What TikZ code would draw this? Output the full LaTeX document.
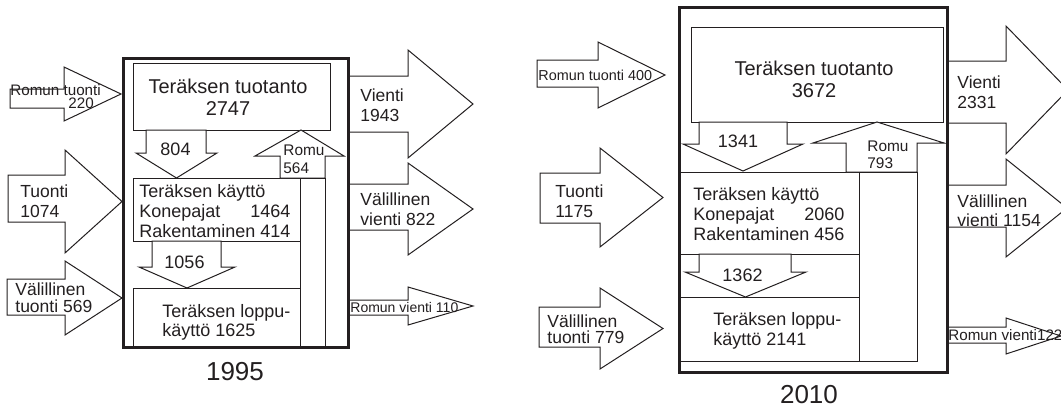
\documentclass[tikz,border=0pt]{standalone}
\usepackage{fontspec}
\setmainfont{Liberation Sans}
\usepackage{calc}
\usetikzlibrary{calc}
\definecolor{linecolor}{RGB}{35,31,32}

\tikzset{
	outerbox/.style={draw=linecolor, line width=1.5pt},
	innerbox/.style={draw=linecolor, line width=0.5pt, fill=white},
	blockarrow/.style={draw=linecolor, line width=0.5pt, fill=white, line join=miter},
	titletext/.style={font=\fontsize{10}{11}\selectfont, align=center,
		anchor=base, inner sep=0pt, text=linecolor},
	boxtext/.style={font=\fontsize{9}{10}\selectfont, align=left,
		anchor=base west, inner sep=0pt, text=linecolor},
	flowtext/.style={font=\fontsize{8.75}{10}\selectfont, align=left,
		anchor=base west, inner sep=0pt, text=linecolor},
	numtext/.style={font=\fontsize{9}{10}\selectfont,
		anchor=base, inner sep=0pt, text=linecolor},
	smalltext/.style={font=\fontsize{7.6}{9}\selectfont, align=left,
		anchor=base west, inner sep=0pt, text=linecolor},
	yeartext/.style={font=\fontsize{13}{15}\selectfont,
		anchor=base, inner sep=0pt, text=linecolor}
}

% right block arrow: xL xH xTip sTop sBot hTop hBot
\newcommand{\rightblk}[7]{%
	\draw[blockarrow] (#1,#4) -- (#2,#4) -- (#2,#6) -- (#3,{(#6+#7)/2})
	-- (#2,#7) -- (#2,#5) -- (#1,#5) -- cycle;}
% down block arrow: sL sR hL hR yTop yHead yTip
\newcommand{\downblk}[7]{%
	\draw[blockarrow] (#1,#5) -- (#1,#6) -- (#3,#6) -- ({(#3+#4)/2},#7)
	-- (#4,#6) -- (#2,#6) -- (#2,#5) -- cycle;}

\begin{document}
\begin{tikzpicture}[x=0.5pt, y=-0.5pt]
		\clip (0,0) rectangle (1061,412);
		
		%% ═══════════════════════════════
		%%  1995
		%% ═══════════════════════════════
		\rightblk{10}{64}{121}{89}{108}{67}{121}
		\rightblk{8}{65}{122}{175}{222}{150}{253}
		\rightblk{7}{65}{122}{279}{315}{261}{335}
		\rightblk{348}{408}{473}{76}{132}{50}{158}
		\rightblk{348}{408}{473}{184}{230}{163}{255}
		\rightblk{348}{408}{473}{300}{315}{287}{325}
		
		\draw[outerbox, fill=white] (123,58) rectangle (348,347);
		\draw[innerbox] (133,63) rectangle (330,130);
		\draw[innerbox] (133,178) rectangle (300,241);
		\draw[innerbox] (133,288) rectangle (300,347);
		
		% Romu back up to production
		\draw[blockarrow] (280,178) -- (280,156) -- (255,156) -- (301,130)
		-- (344,156) -- (325,156) -- (325,178) -- cycle;
		\draw[innerbox] (300,178) rectangle (325,347);
		
		\downblk{146}{206}{136}{217}{130}{153}{178}
		\downblk{152}{221}{139}{235}{241}{267}{288}
		\draw[outerbox] (123,58) rectangle (348,347);
		
		% base anchor = last line
		\node[titletext] (prod95) at (228,115) {Teräksen tuotanto\\2747};
		\node[numtext] (flow95a) at (175.5,155) {804};
		\node[numtext] (flow95b) at (184.5,268) {1056};
		\node[smalltext, font=\fontsize{7.7}{9}\selectfont] (romu95) at (283,173) {Romu\\564};
		\node[boxtext] (use95) at (139,237)
		{Teräksen käyttö\\\makebox[\widthof{Rakentaminen 414}][l]{Konepajat\hfill 1464}\\Rakentaminen 414};
		\node[boxtext, font=\fontsize{9}{9.5}\selectfont] (end95) at (162,336) {Teräksen loppu-\\käyttö 1625};
		
		\node[smalltext] (scrapin95) at (10,95) {Romun tuonti};
		\node[smalltext] (scrapin95n) at (68,108) {220};
		\node[flowtext] (imp95) at (20,217) {Tuonti\\1074};
		\node[flowtext, font=\fontsize{8.75}{8.4}\selectfont] (indimp95) at (15,312.5) {Välillinen\\tuonti 569};
		\node[flowtext] (exp95) at (360,121.7) {Vienti\\1943};
		\node[flowtext] (indexp95) at (360,225) {Välillinen\\vienti 822};
		\node[smalltext, font=\fontsize{7}{8}\selectfont] (scrapout95) at (350,312) {Romun vienti 110};
		\node[yeartext] (year95) at (235,380) {1995};
		
		%% ═══════════════════════════════
		%%  2010
		%% ═══════════════════════════════
		\rightblk{537}{598}{665}{60}{87}{42}{108}
		\rightblk{540}{600}{663}{173}{223}{148}{247}
		\rightblk{539}{600}{663}{307}{347}{288}{369}
		\rightblk{947}{1006}{1068}{61}{123}{26}{154}
		\rightblk{947}{1006}{1067}{185}{227}{159}{257}
		\rightblk{947}{1006}{1061}{327}{343}{318}{354}
		
		\draw[outerbox, fill=white] (679,7) rectangle (947,372);
		\draw[innerbox] (691,27) rectangle (943,122);
		\draw[innerbox] (679,172) rectangle (859,254);
		\draw[innerbox] (679,297) rectangle (859,361);
		
		% Romu back up to production
		\draw[blockarrow] (846,172) -- (846,143) -- (813,143) -- (877,122)
		-- (944,143) -- (917,143) -- (917,172) -- cycle;
		\draw[innerbox] (859,172) rectangle (917,361);
		\draw[innerbox] (679,361) -- (917,361);
		
		\downblk{699}{787}{683}{803}{122}{144}{171}
		\downblk{699}{791}{685}{806}{254}{272}{297}
		\draw[outerbox] (679,7) rectangle (947,372);
		
		\node[titletext, font=\fontsize{10}{10.5}\selectfont] (prod10) at (814,97) {Teräksen tuotanto\\3672};
		\node[numtext] (flow10a) at (738,147) {1341};
		\node[numtext] (flow10b) at (742.5,281) {1362};
		\node[smalltext, font=\fontsize{7.7}{8.5}\selectfont] (romu10) at (867,168) {Romu\\793};
		\node[boxtext] (use10) at (693,240)
		{Teräksen käyttö\\\makebox[\widthof{Rakentaminen 456}][l]{Konepajat\hfill 2060}\\Rakentaminen 456};
		\node[boxtext] (end10) at (713,345) {Teräksen loppu-\\käyttö 2141};
		
		\node[smalltext, font=\fontsize{7.2}{8}\selectfont] (scrapin10) at (538,80) {Romun tuonti 400};
		\node[flowtext] (imp10) at (555,217) {Tuonti\\1175};
		\node[flowtext, font=\fontsize{8.75}{8}\selectfont] (indimp10) at (547,343) {Välillinen\\tuonti 779};
		\node[flowtext] (exp10) at (957,108) {Vienti\\2331};
		\node[flowtext, font=\fontsize{8.75}{9.5}\selectfont] (indexp10) at (957,226) {Välillinen\\vienti 1154};
		\node[smalltext] (scrapout10) at (948,340) {Romun vienti122};
		\node[yeartext] (year10) at (809,403) {2010};
		
	\end{tikzpicture}
\end{document}
